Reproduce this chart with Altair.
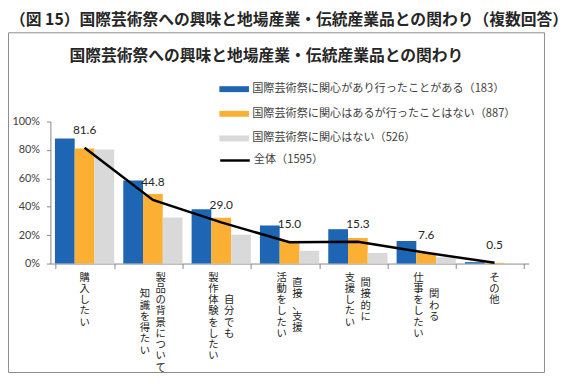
import altair as alt
import pandas as pd

# ---- data ----
label_columns = [
    ["購入したい"],
    ["製品の背景について", "知識を得たい"],
    ["自分でも", "製作体験をしたい"],
    ["直接、支援", "活動をしたい"],
    ["間接的に", "支援したい"],
    ["関わる", "仕事をしたい"],
    ["その他"],
]
categories = ["".join(c) for c in label_columns]
series = [
    "国際芸術祭に関心があり行ったことがある（183）",
    "国際芸術祭に関心はあるが行ったことはない（887）",
    "国際芸術祭に関心はない（526）",
]
total_name = "全体（1595）"
visited = [88.0, 58.5, 38.2, 26.8, 24.2, 15.9, 1.0]
interested = [81.0, 49.0, 32.2, 16.0, 18.0, 7.5, 0.5]
not_interested = [80.4, 32.4, 20.3, 9.0, 7.5, 4.4, 0.3]
total = [81.6, 44.8, 29.0, 15.0, 15.3, 7.6, 0.5]
colors = ["#1E66B4", "#FBB034", "#D9D9D9"]
y_ticks = [0, 20, 40, 60, 80, 100]

main_title = "（図 15）国際芸術祭への興味と地場産業・伝統産業品との関わり（複数回答）"
chart_title = "国際芸術祭への興味と地場産業・伝統産業品との関わり"

# ---- tables ----
rows = []
for s, vals in zip(series, [visited, interested, not_interested]):
    for c, v in zip(categories, vals):
        rows.append({"category": c, "series": s, "value": v})
bars_df = pd.DataFrame(rows)
line_df = pd.DataFrame({"category": categories, "name": total_name, "value": total})

lab_rows = []
for c, cols in zip(categories, label_columns):
    maxlen = max(len(t) for t in cols)
    for j, t in enumerate(cols):
        if len(cols) == 1:
            pos = "single"
        else:
            pos = "right" if j == 0 else "left"
        lab_rows.append({"category": c, "pos": pos, "text": "\n".join(list(t)),
                         "start": (maxlen - len(t)) / 2})
labels_df = pd.DataFrame(lab_rows)

JP = "Noto Sans CJK JP"
NUM = "Lato"
AX = "#868686"
LH = 11.4

x_enc = alt.X("category:N", sort=categories,
              scale=alt.Scale(paddingInner=0.133, paddingOuter=0.0665),
              axis=alt.Axis(title=None, labels=False, tickBand="extent", tickSize=5,
                            domainColor=AX, tickColor=AX, grid=False))
y_scale = alt.Scale(domain=[0, 100])

bars = alt.Chart(bars_df).mark_bar().encode(
    x=x_enc,
    xOffset=alt.XOffset("series:N", sort=series, scale=alt.Scale(paddingInner=0, paddingOuter=0)),
    y=alt.Y("value:Q", scale=y_scale,
            axis=alt.Axis(title=None, values=y_ticks, labelExpr="datum.value + '%'", grid=False,
                          tickSize=4, labelPadding=7, domainColor=AX, tickColor=AX,
                          labelColor="#404040", labelFont=NUM, labelFontSize=11)),
    color=alt.Color("series:N", sort=series,
                    scale=alt.Scale(domain=series, range=colors),
                    legend=alt.Legend(title=None, orient="none", legendX=180.7, legendY=-38.5,
                                      symbolType="M-3,-0.6H3V0.6H-3Z", symbolSize=100,
                                      symbolStrokeWidth=0, labelOffset=12.6, rowPadding=13,
                                      labelFont=JP, labelFontSize=11.3, labelColor="#404040",
                                      labelLimit=400, padding=0)),
)

line = alt.Chart(line_df).mark_line(strokeWidth=2.5).encode(
    x=alt.X("category:N", sort=categories),
    y=alt.Y("value:Q", scale=y_scale, axis=None),
    stroke=alt.Stroke("name:N", scale=alt.Scale(domain=[total_name], range=["#000000"]),
                      legend=alt.Legend(title=None, orient="none", legendX=180.7, legendY=33,
                                        symbolType="M-3,0H3", symbolSize=100,
                                        symbolStrokeWidth=2.5, labelOffset=12.6,
                                        labelFont=JP, labelFontSize=11.3, labelColor="#404040",
                                        labelLimit=400, padding=0)),
)

line_labels = alt.Chart(line_df).mark_text(dy=-18, font=NUM, fontSize=12, color="#262626").encode(
    x=alt.X("category:N", sort=categories),
    y=alt.Y("value:Q", scale=y_scale, axis=None),
    text=alt.Text("value:Q", format=".1f"),
)

lab_y = alt.Y("start:Q", scale=alt.Scale(domain=[0, 1], range=[153.3, 153.3 + LH]), axis=None)


def xlabels(pos, dx):
    return alt.Chart(labels_df).transform_filter(alt.datum.pos == pos).mark_text(
        lineBreak="\n", lineHeight=LH, baseline="top", align="center", dx=dx,
        font=JP, fontSize=10.5, color="#262626"
    ).encode(x=alt.X("category:N", sort=categories), y=lab_y, text="text:N")


frame = alt.Chart(pd.DataFrame({"k": [0]})).mark_rect(
    fillOpacity=0, stroke="#8C8C8C", strokeWidth=1
).encode(x=alt.value(-42.5), x2=alt.value(501), y=alt.value(-90), y2=alt.value(254.5))

t_main = alt.Chart(pd.DataFrame({"k": [0]})).mark_text(
    align="left", baseline="middle", font=JP, fontSize=16, fontWeight="bold", color="#262626"
).encode(x=alt.value(-41), y=alt.value(-103), text=alt.value(main_title))

t_chart = alt.Chart(pd.DataFrame({"k": [0]})).mark_text(
    align="center", baseline="middle", font=JP, fontSize=16, fontWeight="bold", color="#262626"
).encode(x=alt.value(219), y=alt.value(-66), text=alt.value(chart_title))

chart = alt.layer(
    frame, t_main, t_chart, bars, line, line_labels,
    xlabels("single", 0), xlabels("right", 8), xlabels("left", -8),
).resolve_scale(y="independent").properties(
    width=485, height=144,
    padding={"left": 43, "top": 112.5, "right": 50, "bottom": 119.5},
    autosize=alt.AutoSizeParams(type="none"),
    background="white",
).configure_view(stroke=None)

chart.save("out.html", embed_options={"renderer": "svg", "actions": False})
